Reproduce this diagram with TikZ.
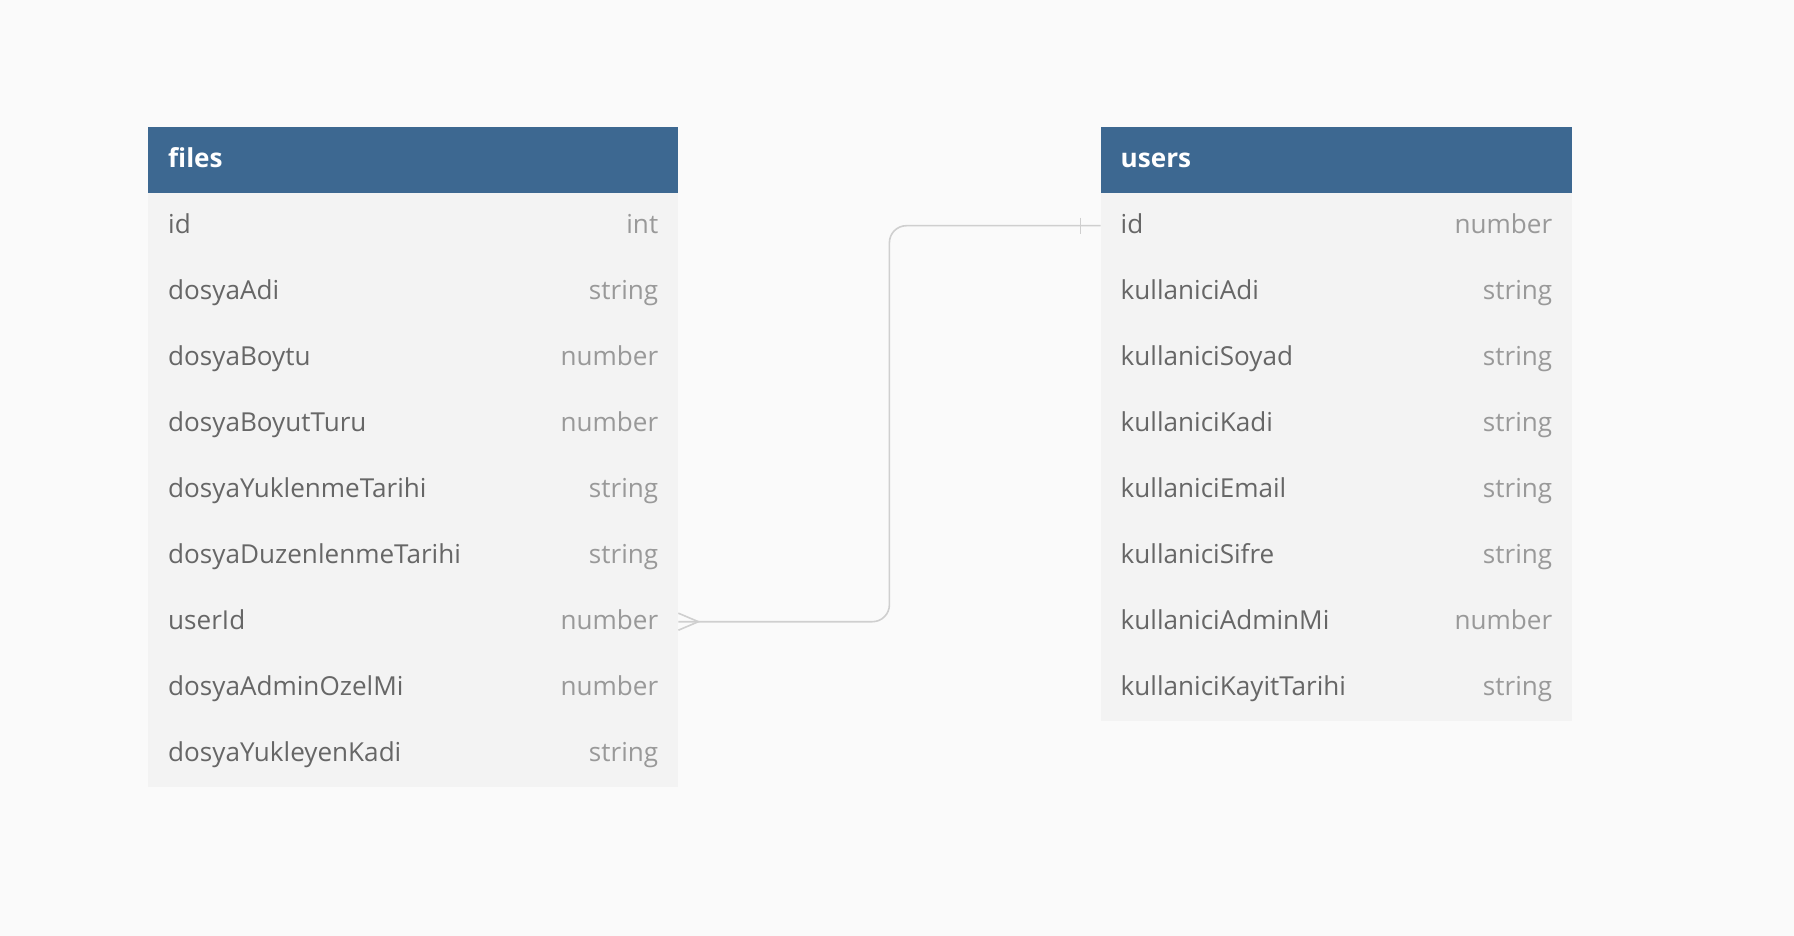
\documentclass[tikz,border=0pt]{standalone}
\usepackage{fontspec}
\setmainfont{Open Sans}
\definecolor{bgc}{HTML}{FAFAFA}
\definecolor{hdr}{HTML}{3D6891}
\definecolor{rowc}{HTML}{F3F3F3}
\definecolor{namec}{HTML}{666666}
\definecolor{typec}{HTML}{999999}
\definecolor{linec}{HTML}{CFCFCF}
\begin{document}
\begin{tikzpicture}[x=1pt,y=-1pt,
  hdrbox/.style={rectangle,fill=hdr,inner sep=0pt,minimum height=65.5pt,anchor=north west},
  rowbox/.style={rectangle,fill=rowc,inner sep=0pt,minimum height=66pt,anchor=north west},
  hdrtext/.style={anchor=base west,inner sep=0pt,text=white,font=\fontsize{26.1}{30}\selectfont\bfseries},
  nametext/.style={anchor=base west,inner sep=0pt,text=namec,font=\fontsize{26.1}{30}\selectfont},
  typetext/.style={anchor=base east,inner sep=0pt,text=typec,font=\fontsize{26.1}{30}\selectfont},
  conn/.style={draw=linec,line width=1.6pt}]
\fill[bgc] (0,0) rectangle (1794,936);
\useasboundingbox (0,0) rectangle (1794,936);
% files table
\node[hdrbox,minimum width=530pt] (fh) at (148,127) {};
\node[hdrtext] (fht) at ([shift={(20,7.5)}]fh.west) {files};
\foreach \n/\t [count=\i] in {id/int,dosyaAdi/string,dosyaBoytu/number,dosyaBoyutTuru/number,dosyaYuklenmeTarihi/string,dosyaDuzenlenmeTarihi/string,userId/number,dosyaAdminOzelMi/number,dosyaYukleyenKadi/string}{
  \node[rowbox,minimum width=530pt] (f\i) at (148,{192.5+(\i-1)*66}) {};
  \node[nametext] (f\i n) at ([shift={(20,8)}]f\i.west) {\n};
  \node[typetext] (f\i t) at ([shift={(-20,8)}]f\i.east) {\t};
}
% users table
\node[hdrbox,minimum width=471.5pt] (uh) at (1100.5,127) {};
\node[hdrtext] (uht) at ([shift={(20,7.5)}]uh.west) {users};
\foreach \n/\t [count=\i] in {id/number,kullaniciAdi/string,kullaniciSoyad/string,kullaniciKadi/string,kullaniciEmail/string,kullaniciSifre/string,kullaniciAdminMi/number,kullaniciKayitTarihi/string}{
  \node[rowbox,minimum width=471.5pt] (u\i) at (1100.5,{192.5+(\i-1)*66}) {};
  \node[nametext] (u\i n) at ([shift={(20,8)}]u\i.west) {\n};
  \node[typetext] (u\i t) at ([shift={(-20,8)}]u\i.east) {\t};
}
% connector
\draw[conn,rounded corners=17pt] (f7.east) -- ++(211,0) |- (u1.west);
% crow's foot (many) at files.userId
\coordinate (cf) at ([shift={(20,0)}]f7.east);
\draw[conn] ([shift={(0,-8.5)}]f7.east) -- (cf) -- ([shift={(0,8.5)}]f7.east);
% one tick at users.id
\draw[conn] ([shift={(-20,-8)}]u1.west) -- ([shift={(-20,8)}]u1.west);
\end{tikzpicture}
\end{document}
